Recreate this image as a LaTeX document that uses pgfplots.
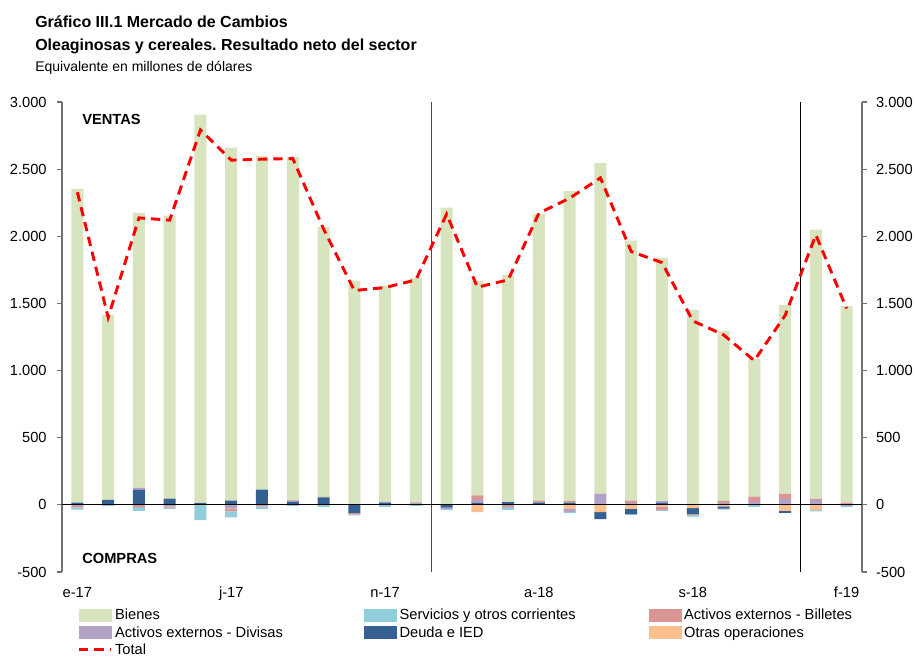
\documentclass[border=0pt]{standalone}
\usepackage{fontspec}
\setmainfont{Liberation Sans}
\usepackage{pgfplots}
\pgfplotsset{compat=1.18}
\usepackage{pgfplotstable}
\frenchspacing

\definecolor{bie}{HTML}{D7E4BD}
\definecolor{ser}{HTML}{92CDDC}
\definecolor{bil}{HTML}{D99694}
\definecolor{div}{HTML}{B3A2C7}
\definecolor{deu}{HTML}{376092}
\definecolor{otr}{HTML}{FAC090}

% positive parts, stacked up from zero
\pgfplotstableread{
x bie ser bil div deu otr
1 2336 0 0 0 17 0
2 1378 0 0 0 37 0
3 2047 0 0 15 112 0
4 2107 0 0 0 47 0
5 2889 0 5 0 12 0
6 2628 0 0 0 32 0
7 2485 0 0 0 114 0
8 2554 0 3 10 22 0
9 2010 0 5 0 55 0
10 1668 0 0 0 0 0
11 1611 0 0 5 17 0
12 1672 0 0 10 0 8
13 2209 0 5 0 0 0
14 1598 0 35 20 15 0
15 1693 0 0 0 20 0
16 2135 0 12 5 15 0
17 2307 0 12 0 17 0
18 2462 0 0 82 0 0
19 1936 0 20 12 0 0
20 1812 0 0 10 17 0
21 1452 0 0 0 0 0
22 1267 0 17 12 0 0
23 1023 0 40 22 0 0
24 1407 0 40 42 0 0
25 2006 0 7 37 0 0
26 1462 0 10 0 0 7
}\pos

% negative parts, stacked down from zero
\pgfplotstableread{
x ser bil div deu otr
1 -18 -10 -8 0 0
2 -10 0 0 0 0
3 -27 -17 0 0 0
4 -10 -8 -12 0 0
5 -114 0 0 0 0
6 -45 -22 -27 0 0
7 -20 -12 0 0 0
8 -10 0 0 0 0
9 -17 0 0 0 0
10 -7 -12 0 -60 0
11 -15 0 0 0 0
12 -8 0 0 0 0
13 -7 0 -12 -20 0
14 0 0 0 0 -55
15 -20 -17 0 0 0
16 0 0 0 0 0
17 -10 0 -22 0 -30
18 0 0 0 -52 -55
19 -5 0 0 -40 -30
20 -7 -25 0 0 -12
21 -10 -10 0 -42 -25
22 -7 0 0 -17 -12
23 -15 0 0 0 0
24 0 0 0 -15 -45
25 -12 0 0 0 -37
26 -7 0 -10 0 0
}\neg

\pgfplotstableread{
x tot
1 2328
2 1395
3 2137
4 2120
5 2792
6 2567
7 2574
8 2579
9 2055
10 1596
11 1618
12 1675
13 2165
14 1621
15 1675
16 2172
17 2284
18 2435
19 1886
20 1804
21 1370
22 1266
23 1074
24 1410
25 2010
26 1462
}\tot

\pgfplotsset{
  base/.style={at={(0pt,0pt)}, anchor=south west, scale only axis,
    width=600pt, height=352.5pt,
    xmin=0.5, xmax=26.5, ymin=-500, ymax=3000},
  yax/.style={ytick={-500,0,500,1000,1500,2000,2500,3000},
    tick align=outside, major tick length=4pt,
    y axis line style={-, black!55, line width=0.8pt},
    ytick style={black!55, line width=0.8pt},
    /pgf/number format/1000 sep={.},
    /pgf/number format/assume math mode=true,
    yticklabel style={font=\fontsize{11}{13}\selectfont}},
  barleg/.style={legend image code/.code={\fill[##1] (0pt,-4.5pt) rectangle (24pt,4.5pt);}},
  lineleg/.style={legend image code/.code={\draw[##1] (0pt,0pt) -- (24pt,0pt);}},
}

\begin{document}
\begin{tikzpicture}
\useasboundingbox (-46.5pt,-65.1pt) rectangle (639.75pt,429pt);

\begin{axis}[base, yax,
  ybar stacked, bar width=0.39,
  axis x line*=bottom, axis y line*=left,
  x axis line style={draw=none},
  xtick={1,6,11,16,21,26},
  xticklabels={e-17,j-17,n-17,a-18,s-18,f-19},
  xtick style={draw=none},
  xticklabel style={font=\fontsize{11}{13}\selectfont, yshift=-4pt},
  yticklabel style={xshift=-4pt},
]
\addplot[fill=otr, draw=none] table[x=x,y=otr]{\pos};
\addplot[fill=deu, draw=none] table[x=x,y=deu]{\pos};
\addplot[fill=div, draw=none] table[x=x,y=div]{\pos};
\addplot[fill=bil, draw=none] table[x=x,y=bil]{\pos};
\addplot[fill=ser, draw=none] table[x=x,y=ser]{\pos};
\addplot[fill=bie, draw=none] table[x=x,y=bie]{\pos};
\end{axis}

\begin{axis}[base, hide axis, ybar stacked, bar width=0.39]
\addplot[fill=otr, draw=none] table[x=x,y=otr]{\neg};
\addplot[fill=deu, draw=none] table[x=x,y=deu]{\neg};
\addplot[fill=div, draw=none] table[x=x,y=div]{\neg};
\addplot[fill=bil, draw=none] table[x=x,y=bil]{\neg};
\addplot[fill=ser, draw=none] table[x=x,y=ser]{\neg};
\end{axis}

\begin{axis}[base, yax,
  axis x line=none, axis y line*=right,
  yticklabel style={xshift=3pt},
  legend columns=3,
  legend cell align=left,
  legend style={at={(0.019,-0.073)}, anchor=north west, draw=none, fill=none,
    inner sep=0pt, row sep=-0.6pt,
    font=\fontsize{11}{13}\selectfont},
]
\addlegendimage{barleg, bie}
\addlegendentry{\makebox[185pt][l]{Bienes}}
\addlegendimage{barleg, ser}
\addlegendentry{\makebox[185pt][l]{Servicios y otros corrientes}}
\addlegendimage{barleg, bil}
\addlegendentry{Activos externos - Billetes}
\addlegendimage{barleg, div}
\addlegendentry{\makebox[185pt][l]{Activos externos - Divisas}}
\addlegendimage{barleg, deu}
\addlegendentry{\makebox[185pt][l]{Deuda e IED}}
\addlegendimage{barleg, otr}
\addlegendentry{Otras operaciones}

\draw[black!70, line width=1pt] (axis cs:12.5,-500) -- (axis cs:12.5,3000);
\draw[black, line width=0.8pt] (axis cs:24.5,-500) -- (axis cs:24.5,3000);
\draw[black, line width=0.9pt] (axis cs:0.5,0) -- (axis cs:26.5,0);

\addplot[lineleg, red, line width=2.2pt, dash pattern=on 7pt off 4.5pt]
  table[x=x,y=tot]{\tot};
\addlegendentry{Total}
\end{axis}

\node[anchor=west, inner sep=0pt, font=\bfseries\fontsize{11}{13}\selectfont] at (15pt,339.75pt) {VENTAS};
\node[anchor=west, inner sep=0pt, font=\bfseries\fontsize{11}{13}\selectfont] at (15pt,10.5pt) {COMPRAS};

\node[anchor=west, inner sep=0pt, font=\bfseries\fontsize{12}{14}\selectfont] at (-20.25pt,412.5pt) {Gráfico III.1 Mercado de Cambios};
\node[anchor=west, inner sep=0pt, font=\bfseries\fontsize{12}{14}\selectfont] at (-20.25pt,394.5pt) {Oleaginosas y cereales. Resultado neto del sector};
\node[anchor=west, inner sep=0pt, font=\fontsize{10.5}{12}\selectfont] at (-20.25pt,378pt) {Equivalente en millones de dólares};
\end{tikzpicture}
\end{document}
